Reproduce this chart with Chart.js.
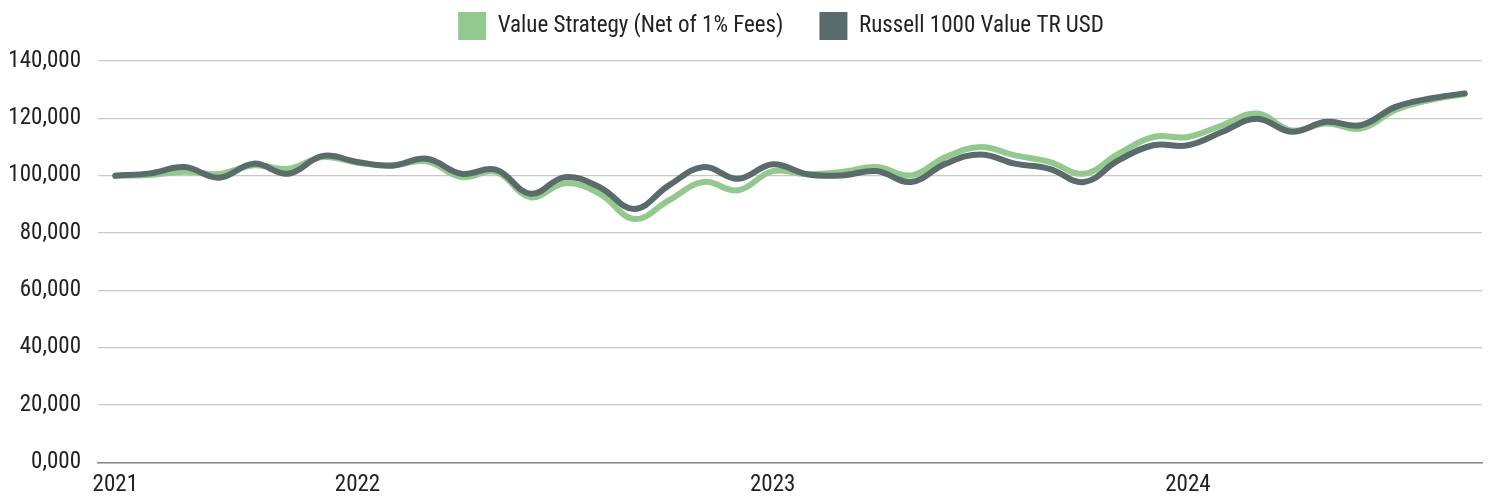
<!DOCTYPE html>
<html>
<head>
<meta charset="utf-8">
<script src="https://cdn.jsdelivr.net/npm/chart.js@4/dist/chart.umd.min.js"></script>
<style>
  html, body { margin: 0; padding: 0; background: #fff; }
  #wrap { width: 1494px; height: 500px; position: relative; }
</style>
</head>
<body>
<div id="wrap"><canvas id="chart"></canvas></div>
<script>
  // monthly points, Jun 2021 .. Sep 2024
  var months = [
    '2021-06', '2021-07', '2021-08', '2021-09', '2021-10', '2021-11', '2021-12',
    '2022-01', '2022-02', '2022-03', '2022-04', '2022-05', '2022-06', '2022-07',
    '2022-08', '2022-09', '2022-10', '2022-11', '2022-12',
    '2023-01', '2023-02', '2023-03', '2023-04', '2023-05', '2023-06', '2023-07',
    '2023-08', '2023-09', '2023-10', '2023-11', '2023-12',
    '2024-01', '2024-02', '2024-03', '2024-04', '2024-05', '2024-06', '2024-07',
    '2024-08', '2024-09'
  ];

  var strategy = [
    100000, 100200, 101400, 100600, 103600, 102400, 106500,
    104500, 103600, 105000, 99500, 101300, 92500, 97400,
    93700, 84900, 91400, 97800, 94900,
    101600, 100500, 101300, 103000, 100100, 106500, 110000,
    107100, 104800, 100700, 107700, 113500,
    113500, 117600, 121700, 115800, 118200, 116400, 122900,
    126400, 128500
  ];

  var russell = [
    100000, 100800, 103000, 99300, 104200, 100700, 106900,
    104800, 103500, 105900, 100700, 102100, 93700, 99500,
    96000, 88400, 96600, 103000, 98900,
    104000, 100500, 100100, 101600, 97800, 104200, 107400,
    104200, 102400, 97800, 105400, 110600,
    110600, 115300, 119900, 115300, 118800, 117600, 124000,
    126900, 128700
  ];

  var yTicks = [0, 20000, 40000, 60000, 80000, 100000, 120000, 140000];

  var fontFamily = '"Roboto Condensed", "Liberation Sans Narrow", "Arial Narrow", Roboto, sans-serif';

  // centre the legend over the plot area and lift it a little
  var legendShift = {
    id: 'legendShift',
    afterLayout: function (chart) {
      var lg = chart.legend;
      lg.left = chart.chartArea.left - 18;
      lg.top -= 11;
      lg.bottom -= 11;
    }
  };

  new Chart(document.getElementById('chart'), {
    type: 'line',
    data: {
      labels: months,
      datasets: [{
        label: 'Value Strategy (Net of 1% Fees)',
        data: strategy,
        borderColor: '#93c98f',
        backgroundColor: '#93c98f',
        borderWidth: 6,
        tension: 0.4,
        pointRadius: 0,
        borderCapStyle: 'round',
        order: 2
      }, {
        label: 'Russell 1000 Value TR USD',
        data: russell,
        borderColor: '#5a6b6b',
        backgroundColor: '#5a6b6b',
        borderWidth: 6,
        tension: 0.4,
        pointRadius: 0,
        borderCapStyle: 'round',
        order: 1
      }]
    },
    plugins: [legendShift],
    options: {
      responsive: true,
      maintainAspectRatio: false,
      animation: false,
      layout: { padding: { left: 0, right: 12, top: -13, bottom: -8 } },
      plugins: {
        tooltip: { enabled: false },
        legend: {
          position: 'top',
          labels: {
            boxWidth: 28,
            boxHeight: 28,
            padding: 36,
            color: '#222',
            font: { family: fontFamily, size: 23 },
            sort: function (a, b) { return a.datasetIndex - b.datasetIndex; },
            generateLabels: function (chart) {
              var items = Chart.defaults.plugins.legend.labels.generateLabels(chart);
              items.forEach(function (it) { it.lineWidth = 0; });
              return items;
            }
          }
        }
      },
      scales: {
        x: {
          offset: true,
          grid: { display: false, drawTicks: false },
          border: { display: true, color: '#888', width: 1.5 },
          ticks: {
            autoSkip: false,
            maxRotation: 0,
            padding: 9,
            color: '#222',
            font: { family: fontFamily, size: 23 },
            callback: function (v, i) {
              var m = months[i];
              if (i === 0 || m.slice(5) === '01') return m.slice(0, 4);
              return '';
            }
          }
        },
        y: {
          min: 0,
          max: 140000,
          afterBuildTicks: function (scale) {
            scale.ticks = yTicks.map(function (v) { return { value: v }; });
          },
          afterFit: function (scale) { scale.width = 98; },
          grid: { color: '#c8c8c8', lineWidth: 1.2, drawTicks: false },
          border: { display: false },
          ticks: {
            padding: 17,
            color: '#222',
            font: { family: fontFamily, size: 23 },
            callback: function (v) {
              return v === 0 ? '0,000' : v.toLocaleString('en-US');
            }
          }
        }
      }
    }
  });
</script>
</body>
</html>
